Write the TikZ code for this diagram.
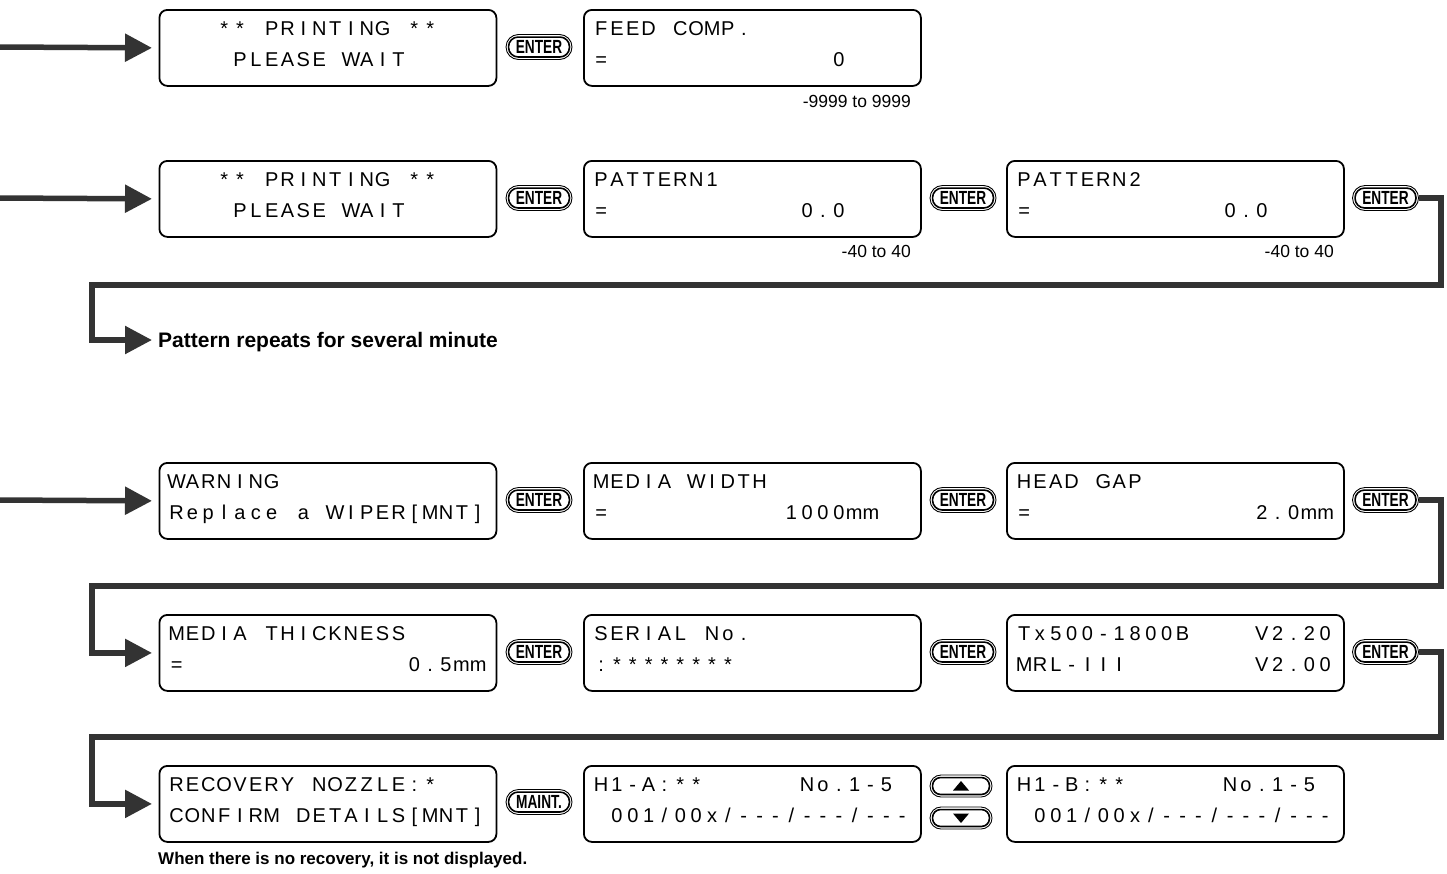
\documentclass[tikz,border=0pt]{standalone}
\usepackage{fontspec}
\setmainfont{Liberation Sans}
\usepackage{graphicx}
\usetikzlibrary{arrows.meta}
\definecolor{arrowgray}{HTML}{333333}
\makeatletter
\newlength\lcdpitch \setlength\lcdpitch{15.85pt}
\def\lcd@half{|}
\def\lcd@mm{mm}
\newcommand\lcd[1]{\@tfor\lcd@c:=#1\do{%
  \ifx\lcd@c\lcd@half\hspace*{0.5\lcdpitch}%
  \else\ifx\lcd@c\lcd@mm\makebox[2\lcdpitch][c]{mm}%
  \else\makebox[\lcdpitch][c]{\lcd@c}\fi\fi}}
\makeatother
\newcommand\lcdfont{\fontsize{20pt}{20pt}\selectfont}
\newcommand\btnfont{\fontsize{19pt}{19pt}\selectfont\bfseries}
\newcommand\LCDpanel[5]{%
  \node[lcdbox] (#1) at (#2,#3) {};
  \node[lcdtext] (#1a) at ([shift={(10pt,-26.5pt)}]#1.north west) {\lcd{#4}};
  \node[lcdtext] (#1b) at ([shift={(10pt,-57.5pt)}]#1.north west) {\lcd{#5}};
}
\newcommand\BTN[4]{%
  \node[btn] (#1) at (#2,#3) {\scalebox{0.72}[1]{#4}};
  \draw[line width=1.6pt, rounded corners=9.5pt] ([shift={(3pt,3pt)}]#1.south west) rectangle ([shift={(-3pt,-3pt)}]#1.north east);
}
\newcommand\ARB[3]{%
  \node[arrbtn] (#1) at (#2,#3) {};
  \draw[line width=1.6pt, rounded corners=8pt] ([shift={(3pt,3pt)}]#1.south west) rectangle ([shift={(-3pt,-3pt)}]#1.north east);
}
\begin{document}
\begin{tikzpicture}[x=1pt,y=-1pt,
  lcdbox/.style={draw=black, line width=1.8pt, rounded corners=8pt, minimum width=337pt, minimum height=76pt, inner sep=0pt, anchor=north west},
  lcdtext/.style={anchor=base west, inner sep=0pt, font=\lcdfont},
  btn/.style={draw=black, line width=0.9pt, rounded corners=12.5pt, minimum width=66pt, minimum height=25pt, inner sep=0pt, font=\btnfont},
  arrbtn/.style={draw=black, line width=0.9pt, rounded corners=11pt, minimum width=62pt, minimum height=22pt, inner sep=0pt},
  flow/.style={draw=arrowgray, line width=5.5pt, -{Triangle[length=27pt,width=27pt]}},
  rng/.style={anchor=base east, inner sep=0pt, font=\fontsize{17.5pt}{17.5pt}\selectfont},
  note/.style={anchor=base west, inner sep=0pt, font=\bfseries\fontsize{21pt}{21pt}\selectfont},
  smallnote/.style={anchor=base west, inner sep=0pt, font=\bfseries\fontsize{17pt}{17pt}\selectfont}
]
\useasboundingbox (0,0) rectangle (1447,873);

% Row 1
\LCDpanel{b11}{158.5}{9}{~~~**~PRINTING~**}{~~~~PLEASE~WAIT}
\LCDpanel{b12}{583}{9}{FEED~COMP.}{=~~~~~~~~~~~~~~0}
\BTN{e1}{539}{47}{ENTER}
\node[rng] (rg1) at (911,107) {-9999 to 9999};

% Row 2
\LCDpanel{b21}{158.5}{160}{~~~**~PRINTING~**}{~~~~PLEASE~WAIT}
\LCDpanel{b22}{583}{160}{PATTERN1}{=~~~~~~~~~~~~0.0}
\LCDpanel{b23}{1006}{160}{PATTERN2}{=~~~~~~~~~~~~0.0}
\BTN{e21}{539}{198}{ENTER}
\BTN{e22}{963}{198}{ENTER}
\BTN{e23}{1385.5}{198}{ENTER}
\node[rng] (rg2) at (911,257) {-40 to 40};
\node[rng] (rg3) at (1334,257) {-40 to 40};
\node[note] (pat) at (158,347.5) {Pattern repeats for several minute};

% Row 3
\LCDpanel{b31}{158.5}{462}{WARNING}{Replace~a~WIPER[MNT]}
\LCDpanel{b32}{583}{462}{MEDIA~WIDTH}{=~~~~~~~~~~~1000{mm}}
\LCDpanel{b33}{1006}{462}{HEAD~GAP}{=~~~~~~~~~~~~~~2.0{mm}}
\BTN{e31}{539}{500}{ENTER}
\BTN{e32}{963}{500}{ENTER}
\BTN{e33}{1385.5}{500}{ENTER}

% Row 4
\LCDpanel{b41}{158.5}{614}{MEDIA~THICKNESS}{=~~~~~~~~~~~~~~0.5{mm}}
\LCDpanel{b42}{583}{614}{SERIAL~No.}{:********}
\LCDpanel{b43}{1006}{614}{Tx500-1800B~~~~V2.20}{MRL-III~~~~~~~~V2.00}
\BTN{e41}{539}{652}{ENTER}
\BTN{e42}{963}{652}{ENTER}
\BTN{e43}{1385.5}{652}{ENTER}

% Row 5
\LCDpanel{b51}{158.5}{765}{RECOVERY~NOZZLE:*}{CONFIRM~DETAILS[MNT]}
\LCDpanel{b52}{583}{765}{H1-A:**~~~~~~No.1-5}{~001/00x/---/---/---}
\LCDpanel{b53}{1006}{765}{H1-B:**~~~~~~No.1-5}{~001/00x/---/---/---}
\BTN{m51}{539}{802}{MAINT.}
\ARB{up5}{961}{786}
\ARB{dn5}{961}{818}
\fill ([shift={(-8pt,-4.5pt)}]up5.center) -- ([shift={(8pt,-4.5pt)}]up5.center) -- ([shift={(0pt,5pt)}]up5.center) -- cycle;
\fill ([shift={(-8pt,4.5pt)}]dn5.center) -- ([shift={(8pt,4.5pt)}]dn5.center) -- ([shift={(0pt,-5pt)}]dn5.center) -- cycle;
\node[smallnote] (nr) at (158,864) {When there is no recovery, it is not displayed.};

% Entry arrows
\coordinate (in1) at (0,47);
\coordinate (in2) at (0,198);
\coordinate (in3) at (0,500);
\draw[flow, shorten >=6.5pt] (in1) -- (b11.west);
\draw[flow, shorten >=6.5pt] (in2) -- (b21.west);
\draw[flow, shorten >=6.5pt] (in3) -- (b31.west);

% Return connectors
\coordinate (r1a) at (1441,285);
\coordinate (r1b) at (92,285);
\coordinate (pt1) at (152,340);
\draw[flow] (e23.east) -| (r1a) -- (r1b) |- (pt1);
\coordinate (r2a) at (1441,586);
\coordinate (r2b) at (92,586);
\draw[flow, shorten >=6.5pt] (e33.east) -| (r2a) -- (r2b) |- (b41.west);
\coordinate (r3a) at (1441,737);
\coordinate (r3b) at (92,737);
\draw[flow, shorten >=6.5pt] (e43.east) -| (r3a) -- (r3b) |- (b51.west);
\end{tikzpicture}
\end{document}
